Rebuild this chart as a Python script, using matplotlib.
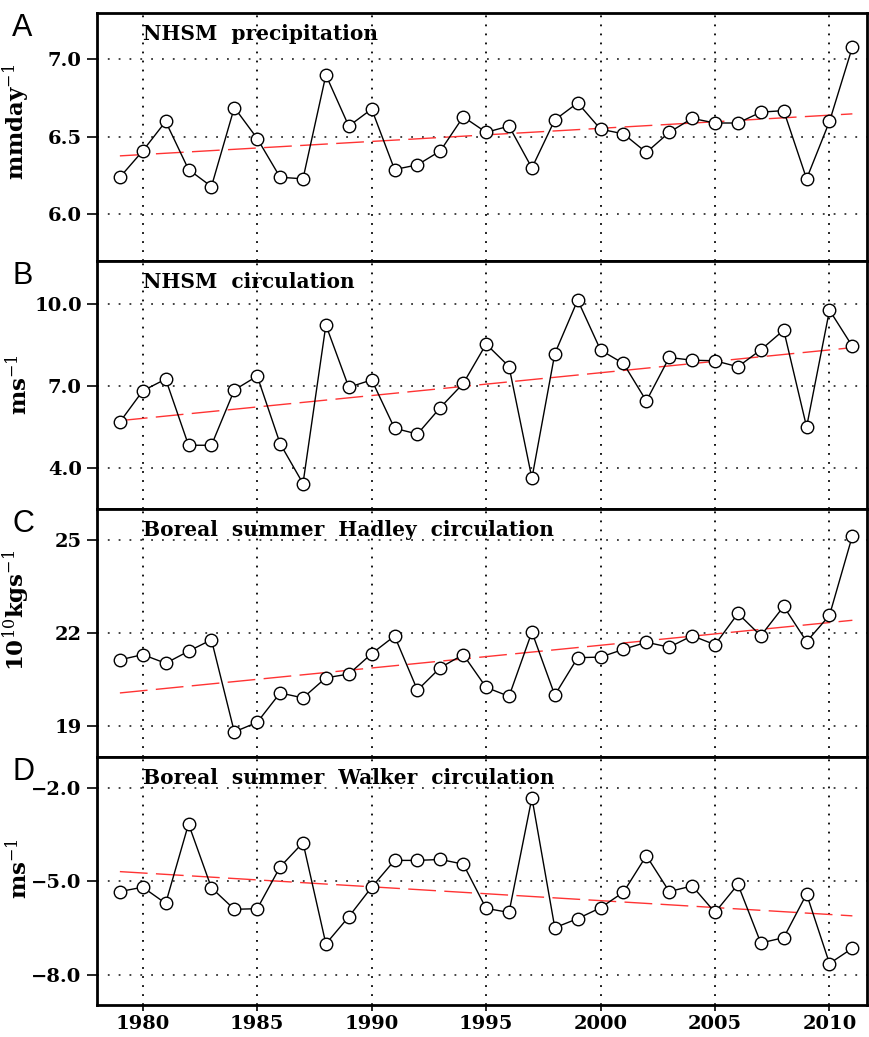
import numpy as np
import matplotlib
matplotlib.use("Agg")
import matplotlib.pyplot as plt

years = list(range(1979, 2012))

precip = [6.24, 6.41, 6.60, 6.29, 6.18, 6.69, 6.49, 6.24, 6.23, 6.90,
          6.57, 6.68, 6.29, 6.32, 6.41, 6.63, 6.53, 6.57, 6.30, 6.61,
          6.72, 6.55, 6.52, 6.40, 6.53, 6.62, 6.59, 6.59, 6.66, 6.67,
          6.23, 6.60, 7.08]
circ = [5.69, 6.83, 7.26, 4.84, 4.84, 6.86, 7.37, 4.90, 3.44, 9.24,
        6.96, 7.23, 5.46, 5.25, 6.22, 7.10, 8.54, 7.72, 3.63, 8.19,
        10.15, 8.32, 7.83, 6.46, 8.05, 7.95, 7.93, 7.71, 8.33, 9.05,
        5.51, 9.78, 8.46]
hadley = [21.13, 21.30, 21.02, 21.41, 21.78, 18.80, 19.11, 20.06, 19.90, 20.55,
          20.67, 21.33, 21.90, 20.15, 20.88, 21.30, 20.24, 19.95, 22.03, 19.99,
          21.20, 21.22, 21.47, 21.70, 21.54, 21.91, 21.62, 22.63, 21.91, 22.86,
          21.72, 22.57, 25.14]
walker = [-5.33, -5.19, -5.71, -3.16, -5.21, -5.90, -5.88, -4.54, -3.76, -7.01,
          -6.14, -5.19, -4.33, -4.33, -4.30, -4.45, -5.87, -6.00, -2.32, -6.49,
          -6.20, -5.85, -5.35, -4.18, -5.33, -5.15, -6.00, -5.10, -6.98, -6.81,
          -5.41, -7.64, -7.15]

# linear trend end points (1979, 2011)
trend_years = [1979, 2011]
precip_trend = [6.378, 6.649]
circ_trend = [5.74, 8.41]
hadley_trend = [20.06, 22.41]
walker_trend = [-4.69, -6.11]

titles = ["NHSM  precipitation", "NHSM  circulation",
          "Boreal  summer  Hadley  circulation", "Boreal  summer  Walker  circulation"]
letters = ["A", "B", "C", "D"]
ylabels = [r"mmday$^{-1}$", r"ms$^{-1}$", r"10$^{10}$kgs$^{-1}$", r"ms$^{-1}$"]
ylabel_pos = [0.56, 0.5, 0.59, 0.55]
yticks = [[6.0, 6.5, 7.0], [4.0, 7.0, 10.0], [19, 22, 25], [-8.0, -5.0, -2.0]]
yticklabels = [["6.0", "6.5", "7.0"], ["4.0", "7.0", "10.0"],
               ["19", "22", "25"], ["\u22128.0", "\u22125.0", "\u22122.0"]]
ylims = [(5.7, 7.3), (2.51, 11.58), (17.99, 26.01), (-8.97, -1.01)]
xticks = [1980, 1985, 1990, 1995, 2000, 2005, 2010]

series = [precip, circ, hadley, walker]
trends = [precip_trend, circ_trend, hadley_trend, walker_trend]

serif = "DejaVu Serif"
plt.rcParams["mathtext.fontset"] = "dejavuserif"

fig = plt.figure(figsize=(8.69, 10.37), dpi=100)
axes = fig.subplots(4, 1, sharex=True)
fig.subplots_adjust(left=0.1116, right=0.998, top=0.9875, bottom=0.0309, hspace=0)

for i, ax in enumerate(axes):
    ax.set_xlim(1978, 2011.65)
    ax.set_ylim(*ylims[i])

    # dotted grid
    for xt in xticks:
        ax.axvline(xt, color="black", lw=1.3, ls=(0, (1, 4)), zorder=1)
    for yt in yticks[i]:
        ax.axhline(yt, color="#333333", lw=1.3, ls=(0, (1, 5)), zorder=1)

    ax.plot(trend_years, trends[i], color="#ff3333", lw=1.0,
            ls=(0, (20, 6)), zorder=2)
    ax.plot(years, series[i], color="black", lw=1.0, marker="o", ms=9,
            mfc="white", mec="black", mew=1.0, zorder=3)

    ax.set_yticks(yticks[i])
    ax.set_yticklabels(yticklabels[i], family=serif, fontsize=14, fontweight="bold")
    ax.set_xticks(xticks)
    ax.tick_params(axis="y", direction="out", length=7, width=1.2, pad=4)
    ax.tick_params(axis="x", direction="out", length=4, width=1.2)
    for s in ax.spines.values():
        s.set_linewidth(2.0)

    ax.set_ylabel(ylabels[i], family=serif, fontsize=16.5, fontweight="bold")
    ax.yaxis.set_label_coords(-0.084, ylabel_pos[i])

    ax.text(0.06, 0.955, titles[i], transform=ax.transAxes, family=serif,
            fontsize=14.5, fontweight="bold", va="top", ha="left")
    ax.text(-0.11, 1.0, letters[i], transform=ax.transAxes, family="Liberation Sans",
            fontsize=22, va="top", ha="left")

axes[-1].set_xticklabels([str(x) for x in xticks], family=serif, fontsize=14,
                         fontweight="bold")

fig.savefig("out.png", dpi=100)
